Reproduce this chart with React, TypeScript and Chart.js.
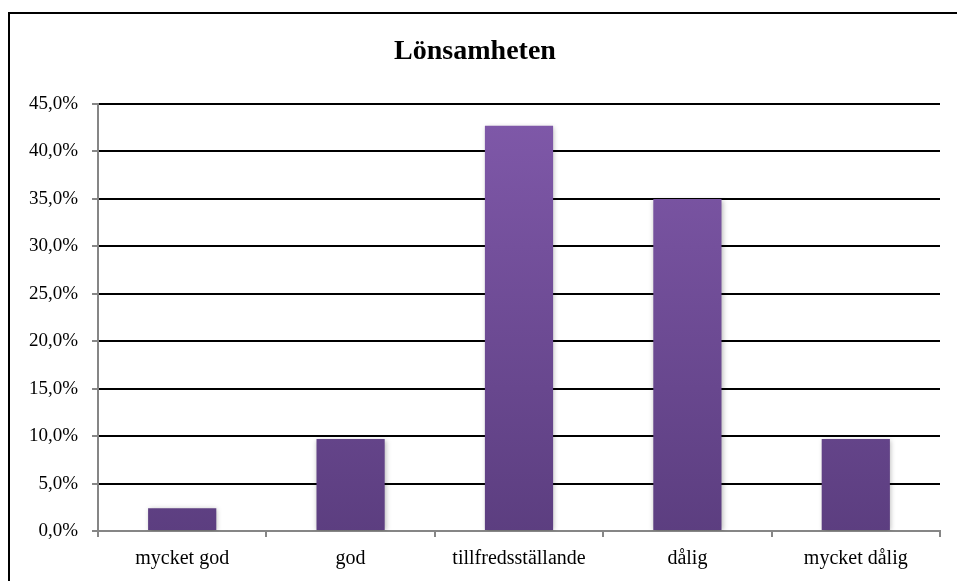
import React, { useEffect, useRef } from "react";
import { Chart, registerables } from "chart.js";

Chart.register(...registerables);

const categories = ["mycket god", "god", "tillfredsställande", "dålig", "mycket dålig"];
const values = [2.4, 9.7, 42.7, 35.0, 9.7];
const titleText = "Lönsamheten";
const yMin = 0;
const yMax = 45;
const yStep = 5;

const FONT = "'Liberation Serif', 'Times New Roman', serif";

const shadowPlugin = {
  id: "barShadow",
  beforeDatasetsDraw(chart: any) {
    const ctx = chart.ctx;
    ctx.save();
    ctx.shadowColor = "rgba(0,0,0,0.28)";
    ctx.shadowBlur = 5;
    ctx.shadowOffsetX = 1;
    ctx.shadowOffsetY = 1;
  },
  afterDatasetsDraw(chart: any) {
    chart.ctx.restore();
  },
};

export default function App() {
  const ref = useRef<HTMLCanvasElement | null>(null);

  useEffect(() => {
    if (!ref.current) return;
    const chart = new Chart(ref.current, {
      type: "bar",
      data: {
        labels: categories,
        datasets: [
          {
            data: values,
            backgroundColor: (c: any) => {
              const area = c.chart.chartArea;
              if (!area) return "#6e4c96";
              const g = c.chart.ctx.createLinearGradient(0, area.top, 0, area.bottom);
              g.addColorStop(0, "#8059aa");
              g.addColorStop(1, "#5c3e80");
              return g;
            },
            borderWidth: 0,
            barPercentage: 0.405,
            categoryPercentage: 1,
          },
        ],
      },
      options: {
        animation: false,
        responsive: false,
        maintainAspectRatio: false,
        layout: { padding: { left: 0, right: 17, top: 0, bottom: 0 } },
        plugins: {
          legend: { display: false },
          tooltip: { enabled: false },
          title: {
            display: true,
            text: titleText,
            color: "#000",
            font: { family: FONT, size: 28, weight: "bold", lineHeight: 1.2 },
            padding: { top: 21, bottom: 35.4 },
          },
        },
        scales: {
          x: {
            offset: true,
            grid: {
              offset: true,
              drawOnChartArea: false,
              drawTicks: true,
              tickLength: 6,
              tickColor: "#868686",
              tickWidth: 2,
              color: "#868686",
              lineWidth: 2,
            },
            border: { display: true, color: "#868686", width: 2 },
            ticks: {
              color: "#000",
              font: { family: FONT, size: 20 },
              padding: 10,
              maxRotation: 0,
              autoSkip: false,
            },
            afterFit: (s: any) => {
              s.height = 50;
            },
          },
          y: {
            min: yMin,
            max: yMax,
            grid: {
              color: (c: any) => (c.tick && c.tick.value === 0 ? "#868686" : "#000"),
              lineWidth: 2,
              drawTicks: true,
              tickLength: 6,
              tickColor: "#868686",
              tickWidth: 2,
            },
            border: { display: true, color: "#868686", width: 2 },
            ticks: {
              stepSize: yStep,
              color: "#000",
              font: { family: FONT, size: 19 },
              padding: 14,
              callback: (v: any) => Number(v).toFixed(1).replace(".", ",") + "%",
            },
            afterFit: (s: any) => {
              s.width = 88;
            },
          },
        },
      },
      plugins: [shadowPlugin],
    });
    return () => chart.destroy();
  }, []);

  return (
    <div
      style={{
        position: "fixed",
        left: 8,
        top: 12,
        right: 0,
        bottom: 0,
        borderTop: "2px solid #000",
        borderLeft: "2px solid #000",
        background: "#fff",
        overflow: "hidden",
      }}
    >
      <canvas ref={ref} width={947} height={567} style={{ display: "block" }} />
    </div>
  );
}
